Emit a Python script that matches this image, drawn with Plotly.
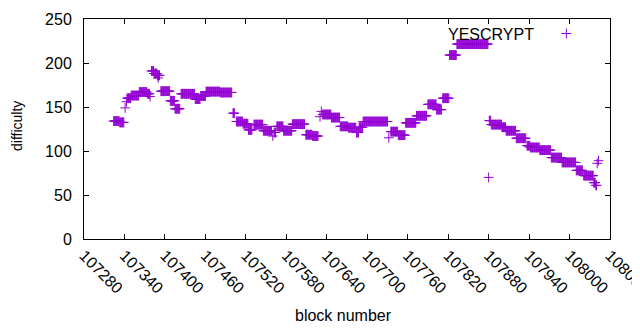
import plotly.graph_objects as go

# Difficulty held constant over runs of consecutive blocks
run_start = [107324, 107333, 107341, 107343, 107344, 107350, 107362, 107374, 107378,
             107380, 107384, 107389, 107390, 107394, 107408, 107415, 107424, 107445,
             107453, 107461, 107482, 107501, 107506, 107516, 107524, 107532, 107546,
             107560, 107562, 107566, 107576, 107589, 107609, 107619, 107630, 107632,
             107634, 107647, 107660, 107672, 107684, 107688, 107694, 107732, 107735,
             107746, 107757, 107773, 107790, 107803, 107812, 107822, 107833, 107880,
             107881, 107884, 107900, 107906, 107921, 107937, 107942, 107956, 107973,
             107989, 108010, 108021, 108036, 108039, 108041, 108043]
run_end = [107332, 107339, 107341, 107343, 107349, 107361, 107373, 107377, 107378,
           107383, 107388, 107392, 107390, 107407, 107414, 107422, 107444, 107452,
           107460, 107481, 107499, 107503, 107515, 107523, 107529, 107545, 107558,
           107560, 107564, 107575, 107588, 107607, 107618, 107627, 107630, 107632,
           107646, 107659, 107671, 107683, 107687, 107693, 107730, 107732, 107745,
           107756, 107772, 107788, 107802, 107810, 107821, 107832, 107879, 107880,
           107883, 107899, 107905, 107920, 107935, 107941, 107955, 107972, 107988,
           108009, 108019, 108035, 108038, 108040, 108041, 108043]
run_difficulty = [134, 132.5, 149, 156, 160, 163, 167, 165, 162,
                  191, 188, 186, 183, 168, 157, 148, 165, 159,
                  162.5, 167.5, 166.5, 143, 133.5, 131, 124, 130, 123,
                  117, 121, 128, 123, 130.5, 118.5, 117, 139, 145,
                  141.5, 138, 128, 126.5, 121, 127, 133.5, 115, 122,
                  118, 132, 140, 153, 147, 160, 209, 221.5, 70,
                  134.5, 130, 127, 123, 114.5, 106, 104, 101, 92.5,
                  87, 78, 72, 64, 61, 86, 89]

x_ticks = list(range(107280, 108061, 60))
y_ticks = [0, 50, 100, 150, 200, 250]
series_name = "YESCRYPT"

blocks, difficulty = [], []
for s, e, v in zip(run_start, run_end, run_difficulty):
    for b in range(s, e + 1):
        blocks.append(b)
        difficulty.append(v)

PURPLE = "#9400D3"
FONT = "Liberation Sans, Arial, sans-serif"

# page body adds an 8px offset; layout below is given in reference pixels
OFF = 8
W, H = 640, 330
PL, PR, PT, PB = 84, 610, 19, 239          # plot box in reference pixels
L, R = PL - OFF, W - (PR - OFF)
T, B = PT - OFF, H - (PB - OFF)
pw, ph = PR - PL, PB - PT

def px(xp):
    return (xp - PL) / pw

def py(yp):
    return (PB - yp) / ph

fig = go.Figure()
fig.add_trace(go.Scatter(
    x=blocks, y=difficulty, mode="markers", name=" ",
    marker=dict(symbol="cross-thin", size=7, line=dict(width=1, color=PURPLE), color=PURPLE),
    showlegend=True,
))

fig.update_layout(
    width=W, height=H,
    margin=dict(l=L, r=R, t=T, b=B),
    paper_bgcolor="white", plot_bgcolor="white",
    font=dict(family=FONT, size=16, color="black"),
    showlegend=True,
    legend=dict(
        orientation="h",
        x=px(446), y=py(19), xanchor="left", yanchor="top",
        bgcolor="rgba(0,0,0,0)", borderwidth=0,
        title=dict(text=series_name + "&nbsp;", side="left", font=dict(size=16)),
        font=dict(size=10),
        itemwidth=30,
    ),
    xaxis=dict(
        range=[107280, 108060], tickmode="array", tickvals=x_ticks,
        ticktext=[str(t) for t in x_ticks], tickangle=45,
        ticks="inside", ticklen=5, tickcolor="black",
        showline=True, linecolor="black", linewidth=1, mirror="ticks",
        showgrid=False, zeroline=False, automargin=False,
        tickfont=dict(size=16), ticklabeloverflow="allow",
    ),
    yaxis=dict(
        range=[0, 250], tickmode="array", tickvals=y_ticks,
        ticks="inside", ticklen=5, tickcolor="black",
        showline=True, linecolor="black", linewidth=1, mirror="ticks",
        showgrid=False, zeroline=False, automargin=False,
        tickfont=dict(size=16), ticklabelstandoff=8,
    ),
    annotations=[
        dict(text="block number", xref="paper", yref="paper", x=px(343), y=py(315),
             showarrow=False, xanchor="center", yanchor="middle", font=dict(size=16)),
        dict(text="difficulty", xref="paper", yref="paper", x=px(17), y=py(126),
             showarrow=False, xanchor="center", yanchor="middle", textangle=-90,
             font=dict(size=14)),
    ],
)

fig.write_html("out.html")
